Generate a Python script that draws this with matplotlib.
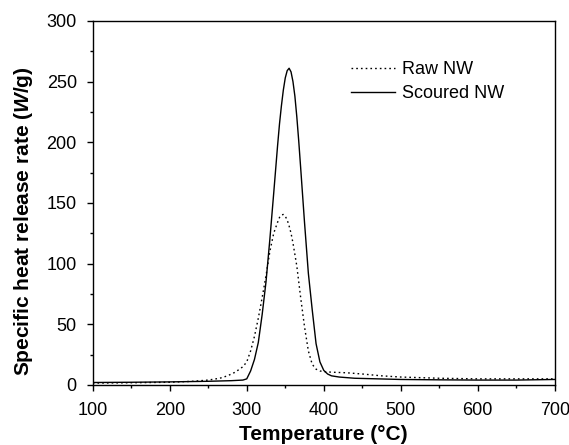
import numpy as np
import matplotlib
matplotlib.use('Agg')
import matplotlib.pyplot as plt
from matplotlib.ticker import MultipleLocator

############################# Data ############################################

# Raw NW (dotted)
raw_T = [100, 150, 200, 230, 250, 265, 275, 285, 295, 300, 305, 310, 315,
         320, 325, 330, 335, 340, 342.5, 345, 347.5, 350, 352.5, 355, 357.5,
         360, 365, 370, 375, 380, 385, 390, 395, 400, 410, 430, 450, 475,
         500, 550, 600, 650, 700]
raw_q = [1.5, 1.8, 2.2, 3.0, 4.0, 5.5, 7.5, 10.5, 15, 19, 28, 40, 55,
         72, 90, 110, 125, 134, 138, 140, 140.5, 139, 136, 131, 125,
         117, 98, 72, 48, 28, 17, 13, 11.5, 11, 10.5, 10, 9, 7.5,
         6.5, 5.5, 5.0, 5.0, 5.0]

# Scoured NW (solid)
sc_T = [100, 150, 200, 250, 280, 295, 300, 305, 310, 315, 320, 325, 330,
        335, 340, 342.5, 345, 347.5, 350, 352.5, 355, 357.5, 360, 362.5,
        365, 367.5, 370, 375, 380, 385, 390, 395, 400, 405, 410, 420, 440,
        470, 500, 550, 600, 650, 700]
sc_q = [2.0, 2.2, 2.5, 3.0, 3.5, 4.0, 5.0, 11.5, 21, 35, 58, 85, 120,
        158, 197, 215, 230, 243, 253, 259, 261, 258, 250, 238,
        221, 201, 179, 134, 92, 62, 34, 19, 12, 9, 7.5, 6.5, 5.5,
        5.0, 4.5, 4.2, 4.0, 4.0, 4.5]

############################# Plot parameters #################################

plt.rcParams['font.family'] = ['Liberation Sans', 'DejaVu Sans']
plt.rcParams['mathtext.fontset'] = 'custom'
plt.rcParams['mathtext.it'] = 'Liberation Sans:italic:bold'
plt.rcParams['mathtext.rm'] = 'Liberation Sans:bold'

fig = plt.figure(figsize=(5.69, 4.45), dpi=100)
ax = fig.add_axes([0.163, 0.135, 0.812, 0.818])

ax.plot(raw_T, raw_q, color='black', linewidth=1.0,
        linestyle=(0, (1.2, 2.2)), label='Raw NW')
ax.plot(sc_T, sc_q, color='black', linewidth=1.0, label='Scoured NW')

ax.set_xlim(100, 700)
ax.set_ylim(0, 300)
ax.xaxis.set_major_locator(MultipleLocator(100))
ax.xaxis.set_minor_locator(MultipleLocator(50))
ax.yaxis.set_major_locator(MultipleLocator(50))
ax.yaxis.set_minor_locator(MultipleLocator(25))
ax.tick_params(which='major', direction='out', length=4.5, width=1,
               labelsize=13, top=False, right=False)
ax.tick_params(which='minor', direction='out', length=2.5, width=1,
               top=False, right=False)
ax.tick_params(axis='x', which='major', pad=8)
ax.tick_params(axis='y', which='major', pad=7)
for s in ax.spines.values():
    s.set_linewidth(1.0)

ax.set_xlabel('Temperature (°C)', fontsize=15, fontweight='bold',
              labelpad=4)
ax.set_ylabel('Specific heat release rate ($W$/g)', fontsize=15,
              fontweight='bold', labelpad=10)
ax.yaxis.set_label_coords(-0.125, 0.45)

ax.legend(loc='upper left', bbox_to_anchor=(0.56, 0.89), frameon=False,
          fontsize=13, handlelength=2.4, handletextpad=0.4,
          labelspacing=0.4, borderpad=0, borderaxespad=0)

plt.savefig('out.png', dpi=100)
